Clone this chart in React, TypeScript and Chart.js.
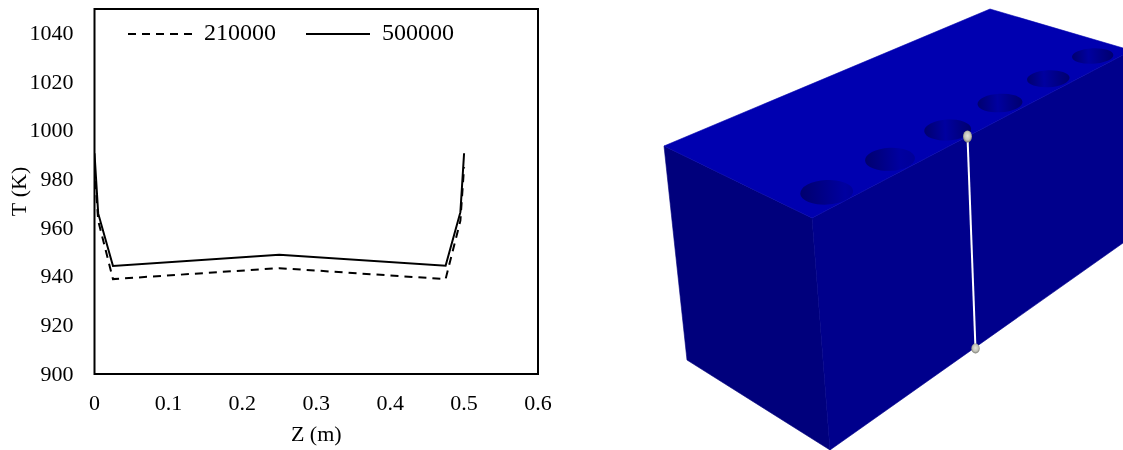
import React, { useEffect, useRef } from "react";
import { Chart, registerables } from "chart.js";

Chart.register(...registerables);

const zPositions = [0, 0.005, 0.025, 0.25, 0.475, 0.495, 0.5];
const temp210000 = [985, 963, 939, 943.5, 939, 963, 985];
const temp500000 = [990.7, 966, 944.4, 949, 944.5, 966.5, 990.7];
const seriesNames = ["210000", "500000"];
const xTickLabels = ["0", "0.1", "0.2", "0.3", "0.4", "0.5", "0.6"];
const yTickValues = [900, 920, 940, 960, 980, 1000, 1020, 1040];

const FONT = '"Liberation Serif", "Times New Roman", serif';

const frame = {
  id: "frame",
  beforeLayout(chart: any) {
    // the legend sits inside the plot, so it must not take layout space
    const legend = chart.legend;
    if (!legend.__patched) {
      const fit = legend.fit.bind(legend);
      legend.fit = () => {
        fit();
        legend.height = 0;
      };
      legend.__patched = true;
    }
  },
  afterLayout(chart: any) {
    const l = chart.legend;
    l.left = 98;
    l.right = 600;
    l.top = -8;
    l.bottom = 70;
  },
  afterDatasetsDraw(chart: any) {
    const { ctx, chartArea: a } = chart;
    ctx.save();
    ctx.strokeStyle = "#000";
    ctx.lineWidth = 2;
    ctx.strokeRect(a.left, a.top, a.right - a.left, a.bottom - a.top);
    ctx.restore();
  },
};

// The right-hand panel is a rendered 3D picture, not plotted data.
const holes = [
  { cx: 826.7, cy: 192.3, rx: 26.5, ry: 12.3, peak: 0.85 },
  { cx: 890, cy: 159.3, rx: 25, ry: 11.5, peak: 0.7 },
  { cx: 947.7, cy: 130, rx: 23.5, ry: 10.5, peak: 0.45 },
  { cx: 1000, cy: 103, rx: 22.5, ry: 9.3, peak: 0.45 },
  { cx: 1048.3, cy: 78.7, rx: 21.3, ry: 8.5, peak: 0.4 },
  { cx: 1092.7, cy: 56, rx: 20.7, ry: 7.8, peak: 0.4 },
];

function Block() {
  return (
    <svg
      width={1123}
      height={450}
      style={{ position: "absolute", left: 0, top: 0, pointerEvents: "none" }}
    >
      <defs>
        {holes.map((h, i) => (
          <linearGradient key={i} id={`hole${i}`} x1="0" x2="1" y1="0" y2="0">
            <stop offset="0" stopColor="#00006e" />
            <stop offset={h.peak} stopColor="#0000a0" />
            <stop offset="1" stopColor={h.peak > 0.6 ? "#000098" : "#00006e"} />
          </linearGradient>
        ))}
        <radialGradient id="ball" cx="0.5" cy="0.45" r="0.55">
          <stop offset="0" stopColor="#e4e4da" />
          <stop offset="0.6" stopColor="#c4c4ba" />
          <stop offset="1" stopColor="#77776f" />
        </radialGradient>
      </defs>
      <polygon points="664,146 812,218 830,450 687,360" fill="#00007c" stroke="#00007c" strokeWidth={0.6} />
      <polygon points="812,218 1123,55 1123,243 830,450" fill="#00008c" stroke="#00008c" strokeWidth={0.6} />
      <polygon points="664,146 990,9 1123,48 1123,55 812,218" fill="#0000b0" stroke="#0000b0" strokeWidth={0.6} />
      {holes.map((h, i) => (
        <ellipse
          key={i}
          cx={h.cx}
          cy={h.cy}
          rx={h.rx}
          ry={h.ry}
          fill={`url(#hole${i})`}
          transform={`rotate(-3 ${h.cx} ${h.cy})`}
        />
      ))}
      <line x1={967.5} y1={137} x2={975.5} y2={349} stroke="#fff" strokeWidth={2} />
      <ellipse cx={967.5} cy={136.5} rx={4.5} ry={6} fill="url(#ball)" />
      <ellipse cx={975.5} cy={348.5} rx={4.2} ry={5} fill="url(#ball)" />
    </svg>
  );
}

export default function App() {
  const ref = useRef<HTMLCanvasElement>(null);

  useEffect(() => {
    const chart = new Chart(ref.current!, {
      type: "line",
      plugins: [frame],
      data: {
        labels: zPositions,
        datasets: [
          {
            label: seriesNames[0],
            data: zPositions.map((z, i) => ({ x: z, y: temp210000[i] })),
            borderColor: "#000",
            backgroundColor: "#000",
            borderWidth: 2,
            borderDash: [8, 6],
            pointRadius: 0,
            tension: 0,
          },
          {
            label: seriesNames[1],
            data: zPositions.map((z, i) => ({ x: z, y: temp500000[i] })),
            borderColor: "#000",
            backgroundColor: "#000",
            borderWidth: 2,
            pointRadius: 0,
            tension: 0,
          },
        ],
      },
      options: {
        animation: false,
        responsive: false,
        layout: { padding: { top: 9, right: 62, left: 0, bottom: 0 } },
        plugins: {
          tooltip: { enabled: false },
          legend: {
            position: "top",
            align: "start",
            onClick: () => {},
            labels: {
              usePointStyle: true,
              pointStyle: "line",
              pointStyleWidth: 64,
              padding: 30,
              color: "#000",
              font: { family: FONT, size: 24 },
              generateLabels: (c: any) =>
                (Chart as any).defaults.plugins.legend.labels
                  .generateLabels(c)
                  .map((item: any) => ({
                    ...item,
                    lineDash: c.data.datasets[item.datasetIndex].borderDash || [],
                    lineWidth: 2,
                  })),
            },
          },
        },
        scales: {
          x: {
            type: "linear",
            min: 0,
            max: 0.6,
            afterFit: (s: any) => {
              s.height = 76;
            },
            grid: { display: false, drawTicks: false },
            border: { display: false },
            ticks: {
              stepSize: 0.1,
              padding: 17,
              maxRotation: 0,
              color: "#000",
              font: { family: FONT, size: 22 },
              callback: (_v: any, i: number) => xTickLabels[i],
            },
            title: {
              display: true,
              text: "Z (m)",
              color: "#000",
              font: { family: FONT, size: 22 },
              padding: { top: 0, bottom: 2 },
            },
          },
          y: {
            type: "linear",
            min: 900,
            max: 1050,
            afterFit: (s: any) => {
              s.width = 94.5;
              s.paddingTop = 0;
              s.paddingBottom = 0;
            },
            afterBuildTicks: (s: any) => {
              s.ticks = yTickValues.map((value) => ({ value }));
            },
            grid: { display: false, drawTicks: false },
            border: { display: false },
            ticks: {
              padding: 21,
              labelOffset: 1,
              color: "#000",
              font: { family: FONT, size: 22 },
              callback: (v: any) => String(v),
            },
            title: {
              display: true,
              text: "T (K)",
              color: "#000",
              font: { family: FONT, size: 22 },
              padding: { top: 7, bottom: 0 },
            },
          },
        },
      },
    } as any);
    return () => chart.destroy();
  }, []);

  return (
    <div
      style={{
        position: "absolute",
        left: 0,
        top: 0,
        width: 1123,
        height: 450,
        overflow: "hidden",
        background: "#fff",
      }}
    >
      <canvas
        ref={ref}
        width={600}
        height={450}
        style={{ position: "absolute", left: 0, top: 0, display: "block" }}
      />
      <Block />
    </div>
  );
}
